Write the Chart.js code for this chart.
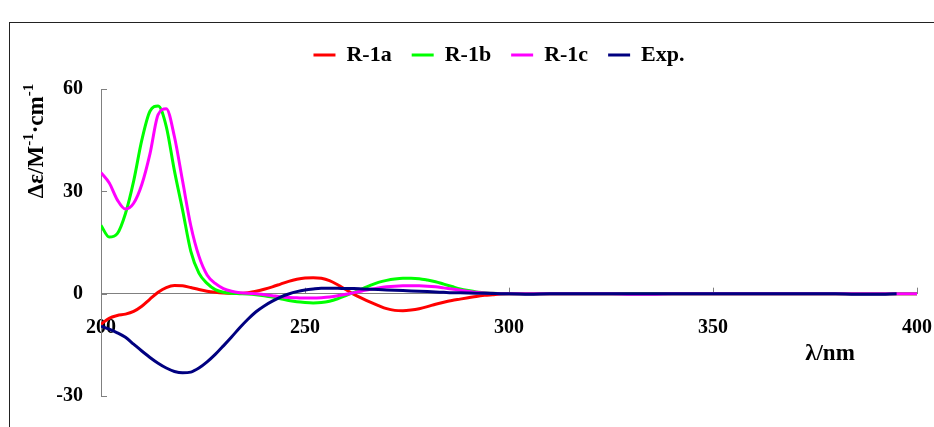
<!DOCTYPE html>
<html>
<head>
<meta charset="utf-8">
<script src="https://cdn.jsdelivr.net/npm/chart.js@4.4.1/dist/chart.umd.min.js"></script>
<style>
  body { margin: 0; background: #fff; }
  #wrap { position: relative; width: 934px; height: 427px; overflow: hidden; }
  #frame { position: absolute; left: 9px; top: 22px; width: 1000px; height: 500px; border: 1px solid #222; }
  #chart { position: absolute; left: 0; top: 0; }
</style>
</head>
<body>
<div id="wrap">
  <div id="frame"></div>
  <canvas id="chart" width="934" height="427"></canvas>
</div>
<script>
// Wavelengths (nm): every 2 nm up to 300, then every 5 nm
const wavelengths = [
  200, 202, 204, 206, 208, 210, 212, 214, 216, 218,
  220, 222, 224, 226, 228, 230, 232, 234, 236, 238,
  240, 242, 244, 246, 248, 250, 252, 254, 256, 258,
  260, 262, 264, 266, 268, 270, 272, 274, 276, 278,
  280, 282, 284, 286, 288, 290, 292, 294, 296, 298, 300,
  305, 310, 315, 320, 325, 330, 335, 340, 345, 350,
  355, 360, 365, 370, 375, 380, 385, 390, 395, 400
];

// Δε values
const r1a = [
  -9, -7.2, -6.4, -6.0, -5.2, -3.7, -1.6, 0.4, 1.8, 2.4,
  2.3, 1.8, 1.2, 0.7, 0.4, 0.2, 0.1, 0.1, 0.3, 0.7,
  1.3, 2.0, 2.8, 3.6, 4.2, 4.6, 4.7, 4.5, 3.8, 2.6,
  1.2, -0.2, -1.4, -2.5, -3.5, -4.4, -4.9, -5.0, -4.8, -4.4,
  -3.8, -3.1, -2.5, -2.0, -1.6, -1.2, -0.8, -0.5, -0.3, -0.1, 0,
  0, 0, 0, 0, 0, 0, 0, 0, 0, 0,
  0, 0, 0, 0, 0, 0, 0, 0, 0, 0
];
const r1b = [
  20, 16.6, 17.6, 23.5, 33, 45, 53.5, 55, 49, 36,
  24.5, 12.5, 6, 3, 1.2, 0.4, 0.1, 0, -0.1, -0.3,
  -0.6, -1, -1.5, -2, -2.4, -2.6, -2.7, -2.6, -2.2, -1.5,
  -0.6, 0.4, 1.4, 2.4, 3.3, 3.9, 4.3, 4.5, 4.5, 4.4,
  4.0, 3.5, 2.8, 2.1, 1.4, 0.9, 0.5, 0.3, 0.1, 0, 0,
  0, 0, 0, 0, 0, 0, 0, 0, 0, 0,
  0, 0, 0, 0, 0, 0, 0, 0, 0, 0
];
const r1c = [
  35.5, 32.5, 27.5, 24.8, 26.5, 32, 41, 52.5, 54.2, 46,
  33, 20, 11, 5.5, 3, 1.5, 0.7, 0.3, 0.1, 0,
  -0.3, -0.6, -0.9, -1.1, -1.2, -1.3, -1.3, -1.2, -1, -0.6,
  -0.2, 0.3, 0.8, 1.3, 1.7, 2, 2.2, 2.3, 2.3, 2.3,
  2.2, 2.0, 1.7, 1.4, 1.0, 0.7, 0.4, 0.2, 0.1, 0, 0,
  0, 0, 0, 0, 0, -0.2, -0.2, 0, 0, 0,
  0, 0, 0, 0, 0, 0, 0, 0, 0, 0
];
const expData = [
  -9.5, -10.4, -11.5, -12.8, -14.8, -16.8, -18.7, -20.4, -21.8, -22.8,
  -23.2, -23, -21.8, -20, -17.8, -15.3, -12.7, -10, -7.5, -5.3,
  -3.6, -2.2, -1.0, -0.1, 0.6, 1.1, 1.4, 1.6, 1.6, 1.6,
  1.5, 1.5, 1.4, 1.3, 1.2, 1.1, 1.0, 0.9, 0.8, 0.7,
  0.6, 0.5, 0.4, 0.3, 0.25, 0.2, 0.15, 0.1, 0.05, 0, 0,
  -0.2, 0, 0, 0, 0, 0, 0, 0, 0, 0,
  0, 0, 0, 0, 0, 0, -0.2, -0.2, 0, null
];

const seriesNames = ['R-1a', 'R-1b', 'R-1c', 'Exp.'];
const seriesColors = ['#ff0000', '#00ff00', '#ff00ff', '#000080'];
const xTickValues = [200, 250, 300, 350, 400];
const yTickValues = [-30, 0, 30, 60];

const serif = '"Liberation Serif", "Times New Roman", serif';
const axisGray = '#808080';

function toPoints(values) {
  return wavelengths.map((w, i) => ({ x: w, y: values[i] }));
}

// small inward tick marks + axis titles (Excel style)
const axisExtras = {
  id: 'axisExtras',
  afterLayout(chart) {
    // nudge legend a bit left so it sits where the original has it
    if (chart.legend) {
      chart.legend.left -= 10;
      chart.legend.right -= 10;
    }
  },
  beforeDatasetsDraw(chart) {
    const { ctx, scales: { x, y } } = chart;
    const y0 = y.getPixelForValue(0);
    ctx.save();
    ctx.strokeStyle = axisGray;
    ctx.lineWidth = 1;
    ctx.beginPath();
    yTickValues.forEach(v => {
      const py = Math.round(y.getPixelForValue(v)) + 0.5;
      ctx.moveTo(x.left, py);
      ctx.lineTo(x.left + 6, py);
    });
    xTickValues.forEach(v => {
      const px = Math.round(x.getPixelForValue(v)) + 0.5;
      ctx.moveTo(px, y0);
      ctx.lineTo(px, y0 - 6);
    });
    ctx.stroke();
    ctx.restore();
  },
  afterDraw(chart) {
    const ctx = chart.ctx;
    ctx.save();
    ctx.fillStyle = '#000';
    ctx.textBaseline = 'alphabetic';

    // x title
    ctx.font = 'bold 23px ' + serif;
    ctx.textAlign = 'center';
    ctx.fillText('λ/nm', 830, 360);

    // y title, rotated, with superscripts
    const big = 'bold 23px ' + serif;
    const small = 'bold 15px ' + serif;
    const parts = [['Δε/M', big, 0], ['-1', small, -10], ['·cm', big, 0], ['-1', small, -10]];
    let total = 0;
    parts.forEach(p => { ctx.font = p[1]; total += ctx.measureText(p[0]).width; });
    ctx.translate(43, 141 + total / 2);
    ctx.rotate(-Math.PI / 2);
    ctx.textAlign = 'left';
    let cx = 0;
    parts.forEach(p => {
      ctx.font = p[1];
      ctx.fillText(p[0], cx, p[2]);
      cx += ctx.measureText(p[0]).width;
    });
    ctx.restore();
  }
};

const ctxChart = document.getElementById('chart').getContext('2d');
const datasetsList = [r1a, r1b, r1c, expData].map((vals, i) => ({
  label: seriesNames[i],
  data: toPoints(vals),
  borderColor: seriesColors[i],
  backgroundColor: seriesColors[i],
  borderWidth: 3,
  pointRadius: 0,
  cubicInterpolationMode: 'monotone',
  order: 4 - i
}));

new Chart(ctxChart, {
  type: 'line',
  data: { datasets: datasetsList },
  options: {
    responsive: false,
    animation: false,
    layout: { padding: { left: 0, right: 17, top: 24, bottom: 31 } },
    scales: {
      x: {
        type: 'linear',
        min: 200, max: 400,
        position: { y: 0 },
        grid: { display: true, drawOnChartArea: false, drawTicks: false },
        border: { color: axisGray, width: 1 },
        ticks: {
          stepSize: 50, padding: 22, color: '#000',
          maxRotation: 0,
          font: { family: serif, size: 20, weight: 'bold' }
        },
        afterFit(scale) {
          scale.paddingLeft = 0;
          scale.paddingRight = 0;
        }
      },
      y: {
        min: -30, max: 60,
        grid: { display: true, drawOnChartArea: false, drawTicks: false },
        border: { color: axisGray, width: 1 },
        ticks: {
          stepSize: 30, padding: 18, color: '#000',
          font: { family: serif, size: 20, weight: 'bold' }
        },
        afterFit(scale) {
          scale.width = 101;
          scale.paddingTop = 0;
          scale.paddingBottom = 0;
        }
      }
    },
    plugins: {
      legend: {
        position: 'top',
        fullSize: false,
        labels: {
          boxWidth: 22, boxHeight: 3, padding: 20, color: '#000',
          font: { family: serif, size: 22, weight: 'bold' },
          sort: (a, b) => a.datasetIndex - b.datasetIndex,
          generateLabels(chart) {
            return Chart.defaults.plugins.legend.labels.generateLabels(chart)
              .map(item => Object.assign(item, { lineWidth: 0 }));
          }
        }
      },
      // empty title used as a spacer between legend and plot
      title: {
        display: true, text: '', weight: 500, padding: 0,
        font: { size: 10, lineHeight: 1.3 }
      },
      tooltip: { enabled: false }
    }
  },
  plugins: [axisExtras]
});
</script>
</body>
</html>
